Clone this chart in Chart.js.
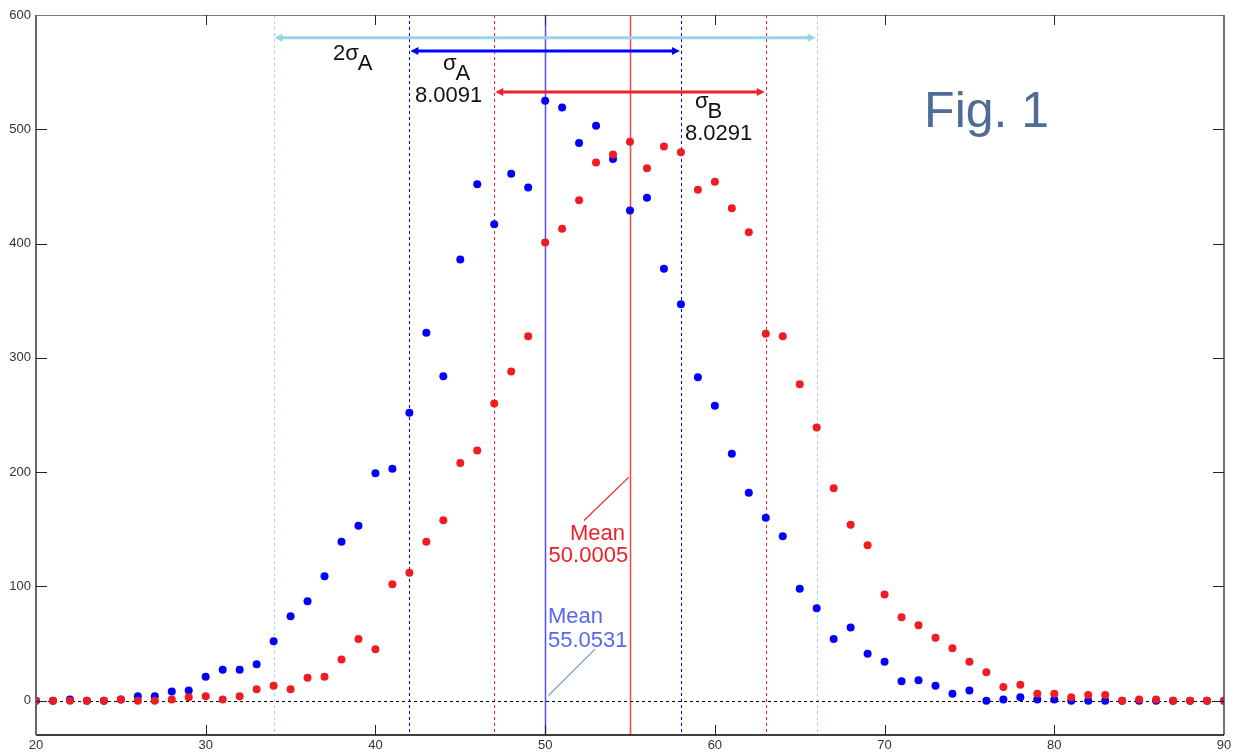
<!DOCTYPE html>
<html><head><meta charset="utf-8">
<script src="https://cdn.jsdelivr.net/npm/chart.js@4/dist/chart.umd.min.js"></script>
<style>html,body{margin:0;padding:0;background:#fff;overflow:hidden}#wrap{width:1238px;height:755px}</style>
</head><body><div id="wrap"><canvas id="c" width="1238" height="755"></canvas></div>
<script>
// ---- data ----
const xValues = [20,21,22,23,24,25,26,27,28,29,30,31,32,33,34,35,36,37,38,39,40,41,42,43,44,45,46,47,48,49,50,51,52,53,54,55,56,57,58,59,60,61,62,63,64,65,66,67,68,69,70,71,72,73,74,75,76,77,78,79,80,81,82,83,84,85,86,87,88,89,90];
const seriesA = [0,0,1,0,0,1,4,4,8,9,21,27,27,32,52,74,87,109,139,153,199,203,252,322,284,386,452,417,461,449,525,519,488,503,474,429,440,378,347,283,258,216,182,160,144,98,81,54,64,41,34,17,18,13,6,9,0,1,3,1,1,0,0,0,0,0,0,0,0,0,0];
const seriesB = [0,0,0,0,0,1,0,0,1,3,4,1,4,10,13,10,20,21,36,54,45,102,112,139,158,208,219,260,288,319,401,413,438,471,478,489,466,485,480,447,454,431,410,321,319,277,239,186,154,136,93,73,66,55,46,34,25,12,14,6,6,3,5,5,0,1,1,0,0,0,0];
const xTicks = [20,30,40,50,60,70,80,90];
const yTicks = [0,100,200,300,400,500,600];
const meanLineA = 50, meanLineB = 55;
const sigmaLinesA = [42,58];
const sigmaLinesB = [47,63];
const twoSigmaLinesA = [34,66];
const labelSigmaA = '8.0091', labelSigmaB = '8.0291';
const labelMeanB = '50.0005', labelMeanA = '55.0531';

const FONT = '"Liberation Sans", Arial, sans-serif';
const BLUE = 'rgb(0,0,255)', RED = 'rgb(240,28,36)', CYAN = 'rgb(150,212,232)';

const overlay = {
  id: 'overlay',
  beforeDatasetsDraw(chart) {
    const {ctx, chartArea: a, scales: {x, y}} = chart;
    const X = v => x.getPixelForValue(v), Y = v => y.getPixelForValue(v);
    ctx.save();
    const vline = (v, color, dash, w) => {
      ctx.beginPath(); ctx.setLineDash(dash); ctx.strokeStyle = color; ctx.lineWidth = w;
      const px = Math.round(X(v)) + 0.5;
      ctx.moveTo(px, a.top); ctx.lineTo(px, a.bottom); ctx.stroke();
    };
    twoSigmaLinesA.forEach(v => vline(v, 'rgb(155,215,235)', [3,3], 1));
    sigmaLinesA.forEach(v => vline(v, 'rgb(0,0,255)', [3,3], 1));
    sigmaLinesB.forEach(v => vline(v, 'rgb(250,30,30)', [3,3], 1));
    vline(meanLineA, 'rgb(80,80,245)', [], 1.5);
    vline(meanLineB, 'rgb(245,70,70)', [], 1.5);
    // zero line
    ctx.beginPath(); ctx.setLineDash([3,3]); ctx.strokeStyle = '#000'; ctx.lineWidth = 1;
    const zy = Math.round(Y(0)) + 0.5;
    ctx.moveTo(a.left, zy); ctx.lineTo(a.right, zy); ctx.stroke();
    ctx.setLineDash([]);
    // arrows
    const arrow = (x1, x2, yv, color) => {
      const p1 = X(x1), p2 = X(x2), py = Y(yv);
      ctx.strokeStyle = color; ctx.fillStyle = color; ctx.lineWidth = 3;
      ctx.beginPath(); ctx.moveTo(p1 + 5, py); ctx.lineTo(p2 - 5, py); ctx.stroke();
      ctx.beginPath(); ctx.moveTo(p1 + 1, py); ctx.lineTo(p1 + 9, py - 4); ctx.lineTo(p1 + 9, py + 4); ctx.closePath(); ctx.fill();
      ctx.beginPath(); ctx.moveTo(p2 - 1, py); ctx.lineTo(p2 - 9, py - 4); ctx.lineTo(p2 - 9, py + 4); ctx.closePath(); ctx.fill();
    };
    arrow(twoSigmaLinesA[0], twoSigmaLinesA[1], 580, CYAN);
    arrow(sigmaLinesA[0], sigmaLinesA[1], 568.5, BLUE);
    arrow(sigmaLinesB[0], sigmaLinesB[1], 532.7, 'rgb(235,35,45)');
    // texts
    ctx.textBaseline = 'alphabetic';
    const sub = (main, s, xv, yv, color) => {
      ctx.font = '22px ' + FONT; ctx.fillStyle = color; ctx.textAlign = 'left';
      const px = X(xv), py = Y(yv);
      ctx.fillText(main, px, py);
      const w = ctx.measureText(main).width;
      ctx.fillText(s, px + w - 1, py + 10);
    };
    sub('2σ', 'A', 37.5, 560.7, '#111');
    sub('σ', 'A', 43.98, 551.9, '#111');
    sub('σ', 'B', 58.83, 518.7, '#111');
    ctx.font = '22px ' + FONT; ctx.fillStyle = '#111'; ctx.textAlign = 'left';
    ctx.fillText(labelSigmaA, X(42.33), Y(523.9));
    ctx.fillText(labelSigmaB, X(58.24), Y(490.7));
    // Fig. 1
    ctx.font = '50px ' + FONT; ctx.fillStyle = 'rgb(80,108,150)';
    ctx.fillText('Fig. 1', X(72.33), Y(502));
    // red mean
    ctx.font = '22px ' + FONT; ctx.fillStyle = 'rgb(240,30,40)'; ctx.textAlign = 'right';
    ctx.fillText('Mean', X(54.71), Y(140.8));
    ctx.fillText(labelMeanB, X(54.89), Y(121.6));
    ctx.strokeStyle = 'rgb(235,40,50)'; ctx.lineWidth = 1.2;
    ctx.beginPath(); ctx.moveTo(X(52.29), Y(157.7)); ctx.lineTo(X(54.93), Y(195.7)); ctx.stroke();
    // blue mean
    ctx.fillStyle = 'rgb(85,105,240)'; ctx.textAlign = 'left';
    ctx.fillText('Mean', X(50.17), Y(68.2));
    ctx.fillText(labelMeanA, X(50.17), Y(47.2));
    ctx.strokeStyle = 'rgb(110,150,210)'; ctx.lineWidth = 1.2;
    ctx.beginPath(); ctx.moveTo(X(52.94), Y(45.2)); ctx.lineTo(X(50.19), Y(4.4)); ctx.stroke();
    ctx.restore();
  },
  afterDraw(chart) {
    const {ctx, chartArea: a, scales: {x, y}} = chart;
    ctx.save();
    // frame
    ctx.lineWidth = 1; ctx.strokeStyle = '#777';
    ctx.beginPath(); ctx.moveTo(a.left, a.top + 0.5); ctx.lineTo(a.right, a.top + 0.5); ctx.stroke();
    ctx.strokeStyle = '#444'; ctx.lineWidth = 1.5;
    ctx.beginPath(); ctx.moveTo(a.right, a.top); ctx.lineTo(a.right, a.bottom); ctx.stroke();
    ctx.strokeStyle = '#000'; ctx.lineWidth = 1.5;
    ctx.beginPath(); ctx.moveTo(a.left, a.bottom); ctx.lineTo(a.right, a.bottom); ctx.stroke();
    ctx.strokeStyle = '#666'; ctx.lineWidth = 2;
    ctx.beginPath(); ctx.moveTo(a.left, a.top); ctx.lineTo(a.left, a.bottom); ctx.stroke();
    // inward tick marks
    ctx.strokeStyle = '#222'; ctx.lineWidth = 1;
    xTicks.slice(1, -1).forEach(v => {
      const px = Math.round(x.getPixelForValue(v)) + 0.5;
      ctx.beginPath(); ctx.moveTo(px, a.bottom); ctx.lineTo(px, a.bottom - 10); ctx.stroke();
      ctx.beginPath(); ctx.moveTo(px, a.top); ctx.lineTo(px, a.top + 10); ctx.stroke();
    });
    yTicks.slice(0, -1).forEach(v => {
      const py = Math.round(y.getPixelForValue(v)) + 0.5;
      ctx.beginPath(); ctx.moveTo(a.left, py); ctx.lineTo(a.left + 11, py); ctx.stroke();
      ctx.beginPath(); ctx.moveTo(a.right, py); ctx.lineTo(a.right - 11, py); ctx.stroke();
    });
    ctx.restore();
  }
};

const toPts = arr => xValues.map((v, i) => ({x: v, y: arr[i]}));

new Chart(document.getElementById('c'), {
  type: 'scatter',
  data: {
    datasets: [
      {label: 'B', data: toPts(seriesB), backgroundColor: RED, borderWidth: 0, pointRadius: 4, pointHoverRadius: 4},
      {label: 'A', data: toPts(seriesA), backgroundColor: BLUE, borderWidth: 0, pointRadius: 4, pointHoverRadius: 4}
    ]
  },
  options: {
    responsive: false, animation: false, events: [],
    layout: {padding: {top: 15, right: 14, left: 0, bottom: 0}},
    plugins: {legend: {display: false}, tooltip: {enabled: false}},
    scales: {
      x: {
        type: 'linear', min: 20, max: 90,
        afterBuildTicks: s => { s.ticks = xTicks.map(v => ({value: v})); },
        afterFit: s => { s.height = 20; },
        grid: {display: false, drawTicks: false}, border: {display: false},
        ticks: {padding: 3, color: '#333', font: {family: FONT, size: 13}, maxRotation: 0}
      },
      y: {
        type: 'linear', min: -30, max: 600,
        afterBuildTicks: s => { s.ticks = yTicks.map(v => ({value: v})); },
        afterFit: s => { s.width = 36; },
        grid: {display: false, drawTicks: false}, border: {display: false},
        ticks: {padding: 5, color: '#333', font: {family: FONT, size: 13}}
      }
    }
  },
  plugins: [overlay]
});
</script>
</body></html>
